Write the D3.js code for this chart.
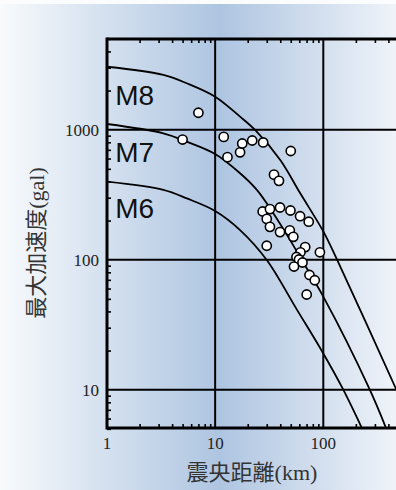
<!DOCTYPE html>
<html>
<head>
<meta charset="utf-8">
<script src="https://cdn.jsdelivr.net/npm/d3@7"></script>
<style>
  html, body { margin: 0; padding: 0; background: #fff; }
  svg { display: block; }
</style>
</head>
<body>
<div id="vis"></div>
<script>
// observed stations: epicentral distance (km) / peak acceleration (gal)
var obsDist = [7, 5, 12, 13, 17, 17.8, 22, 27.8, 50, 35, 38.9,
               27.5, 32.1, 39.8, 49.7, 61, 73.3, 30, 32.1, 39.8, 49, 52.8,
               30, 68, 61.5, 93, 56.5, 59.6, 64.2, 53.6, 74.5, 83.4, 70.2];
var obsAcc  = [1350, 840, 880, 615, 670, 783, 826, 798, 686, 451, 404,
               235, 245, 252, 239, 216, 196, 206, 179, 163, 168, 150,
               128, 125, 114, 114, 105, 100.4, 95.2, 88.6, 76.3, 69.5, 54];

// attenuation curves
var m8Dist = [1, 3.32, 5.47, 10, 17, 23.4, 40, 61.2, 100, 134, 474];
var m8Acc  = [3050, 2640, 2275, 1795, 1260, 995, 585, 324, 165, 100, 10];
var m7Dist = [1, 3.32, 5.47, 10, 17, 24.3, 34.5, 49.2, 63, 100, 269, 398];
var m7Acc  = [1106, 938, 809, 650, 462, 344, 228, 142, 100, 52, 10, 4.6];
var m6Dist = [1, 3.32, 5.47, 10, 17, 30, 56.8, 100, 153, 240];
var m6Acc  = [398, 344, 296, 237, 169, 99.5, 41.5, 19, 10, 4.6];

var magLabels = ["M8", "M7", "M6"];
var magLabelAcc = [1550, 568, 209];
var magLabelDist = 1.19;

var xTicks = [1, 10, 100];
var yTicks = [10, 100, 1000];

var W = 396, H = 490;
var L = 107, T = 39, B = 428, R = 396;

var x = d3.scaleLog().domain([1, 100]).range([L, 323.3]);
var y = d3.scaleLog().domain([10, 1000]).range([389.7, 129.7]);

var svg = d3.select("#vis").append("svg")
  .attr("width", W)
  .attr("height", H);

var defs = svg.append("defs");
var grad = defs.append("linearGradient").attr("id", "bg")
  .attr("x1", 0).attr("x2", 1).attr("y1", 0).attr("y2", 0);
grad.append("stop").attr("offset", 0).attr("stop-color", "#f8fafc");
grad.append("stop").attr("offset", 0.555).attr("stop-color", "#aec5e1");
grad.append("stop").attr("offset", 1).attr("stop-color", "#eff3f9");

defs.append("clipPath").attr("id", "plot")
  .append("rect").attr("x", L).attr("y", T).attr("width", R - L).attr("height", B - T);

svg.append("rect").attr("width", W).attr("height", H).attr("fill", "#fbfcfe");
svg.append("rect").attr("y", 4).attr("width", W).attr("height", H - 4).attr("fill", "url(#bg)");

// minor ticks
var minorX = [], minorY = [];
[1, 10, 100].forEach(function (d) {
  for (var k = 2; k <= 9; k++) if (d * k < 480) minorX.push(d * k);
});
[1, 10, 100, 1000].forEach(function (d) {
  for (var k = 2; k <= 9; k++) if (d * k >= 5 && d * k <= 5000) minorY.push(d * k);
});

function styleTicks(g) {
  g.select(".domain").remove();
  g.selectAll("line").attr("stroke", "#000").attr("stroke-width", 1.6);
}

svg.append("g").attr("transform", "translate(0," + B + ")")
  .call(d3.axisBottom(x).tickValues(minorX).tickSize(-4).tickFormat(""))
  .call(styleTicks);
svg.append("g").attr("transform", "translate(0," + T + ")")
  .call(d3.axisTop(x).tickValues(minorX).tickSize(-4).tickFormat(""))
  .call(styleTicks);
svg.append("g").attr("transform", "translate(" + L + ",0)")
  .call(d3.axisLeft(y).tickValues(minorY).tickSize(-4).tickFormat(""))
  .call(styleTicks);

// grid
svg.append("g").selectAll("line").data([10, 100]).enter().append("line")
  .attr("x1", function (d) { return x(d); }).attr("x2", function (d) { return x(d); })
  .attr("y1", T).attr("y2", B)
  .attr("stroke", "#000").attr("stroke-width", 2);
svg.append("g").selectAll("line").data(yTicks).enter().append("line")
  .attr("x1", L).attr("x2", R)
  .attr("y1", function (d) { return y(d); }).attr("y2", function (d) { return y(d); })
  .attr("stroke", "#000").attr("stroke-width", 2);

// frame (no right side)
svg.append("line").attr("x1", L).attr("x2", R).attr("y1", T).attr("y2", T)
  .attr("stroke", "#000").attr("stroke-width", 3);
svg.append("line").attr("x1", L).attr("x2", R).attr("y1", B).attr("y2", B)
  .attr("stroke", "#000").attr("stroke-width", 3);
svg.append("line").attr("x1", L).attr("x2", L).attr("y1", T - 1.5).attr("y2", B + 1.5)
  .attr("stroke", "#000").attr("stroke-width", 3);

// curves
var line = d3.line()
  .x(function (d) { return x(d[0]); })
  .y(function (d) { return y(d[1]); })
  .curve(d3.curveCatmullRom.alpha(0.5));

var curves = [d3.zip(m8Dist, m8Acc), d3.zip(m7Dist, m7Acc), d3.zip(m6Dist, m6Acc)];
svg.append("g").attr("clip-path", "url(#plot)")
  .selectAll("path").data(curves).enter().append("path")
  .attr("d", line)
  .attr("fill", "none")
  .attr("stroke", "#000")
  .attr("stroke-width", 1.8);

// magnitude labels
svg.append("g").selectAll("text").data(magLabels).enter().append("text")
  .attr("x", x(magLabelDist))
  .attr("y", function (d, i) { return y(magLabelAcc[i]); })
  .attr("font-family", "Liberation Sans, Arial, sans-serif")
  .attr("font-size", 28)
  .attr("fill", "#111")
  .text(function (d) { return d; });

// observations
svg.append("g").attr("clip-path", "url(#plot)")
  .selectAll("circle").data(d3.zip(obsDist, obsAcc)).enter().append("circle")
  .attr("cx", function (d) { return x(d[0]); })
  .attr("cy", function (d) { return y(d[1]); })
  .attr("r", 4.6)
  .attr("fill", "#fff")
  .attr("stroke", "#000")
  .attr("stroke-width", 1.6);

// tick labels
var serif = "Liberation Serif, Times New Roman, Noto Sans CJK JP, serif";
svg.append("g").selectAll("text").data(xTicks).enter().append("text")
  .attr("x", function (d) { return x(d); })
  .attr("y", B + 21)
  .attr("text-anchor", "middle")
  .attr("font-family", serif).attr("font-size", 17).attr("fill", "#222")
  .text(function (d) { return d; });
svg.append("g").selectAll("text").data(yTicks).enter().append("text")
  .attr("x", L - 8)
  .attr("y", function (d) { return y(d) + 6; })
  .attr("text-anchor", "end")
  .attr("font-family", serif).attr("font-size", 17).attr("fill", "#222")
  .text(function (d) { return d; });

// axis titles
svg.append("text")
  .attr("x", 252).attr("y", 480)
  .attr("text-anchor", "middle")
  .attr("font-family", serif).attr("font-size", 22).attr("fill", "#333")
  .text("震央距離(km)");
svg.append("text")
  .attr("transform", "translate(44,243) rotate(-90)")
  .attr("text-anchor", "middle")
  .attr("font-family", serif).attr("font-size", 22).attr("fill", "#333")
  .text("最大加速度(gal)");
</script>
</body>
</html>
